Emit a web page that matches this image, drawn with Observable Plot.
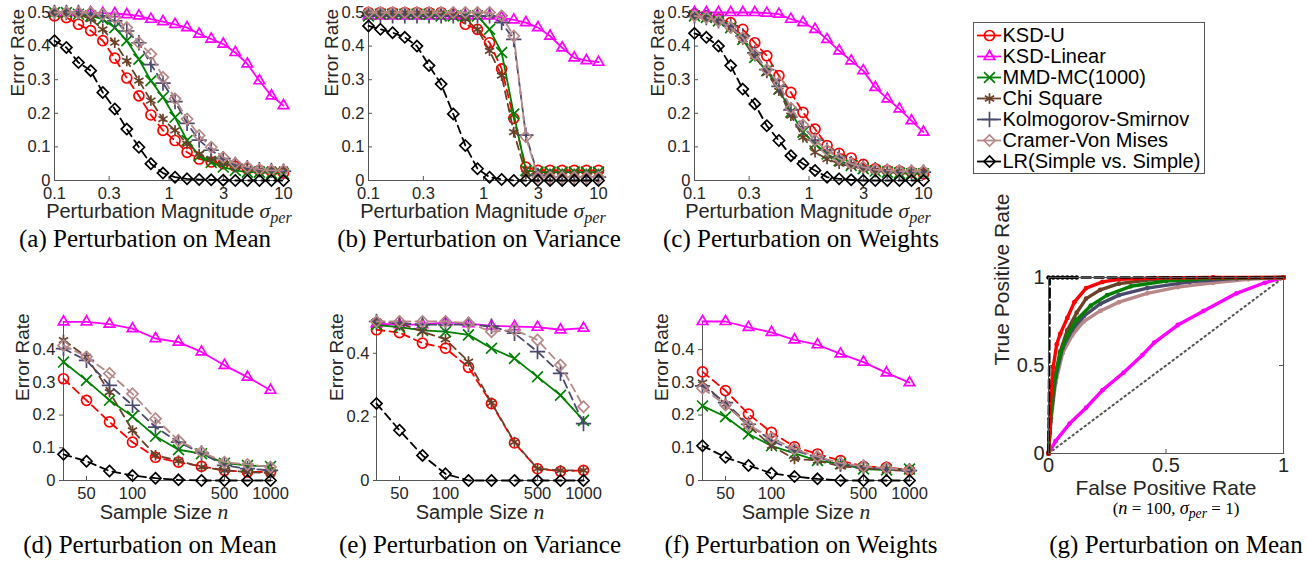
<!DOCTYPE html>
<html><head><meta charset="utf-8">
<script src="https://cdn.jsdelivr.net/npm/d3@7"></script>
<script src="https://cdn.jsdelivr.net/npm/@observablehq/plot@0.6"></script>
<style>
body{margin:0;background:#fff;}
#fig{position:relative;width:1307px;height:561px;overflow:hidden;font-family:"Liberation Sans",Arial,sans-serif;background:#fff;}
.pan{position:absolute;}
.pan svg{overflow:visible;}
.lbl{position:absolute;transform:translate(-50%,-50%);white-space:nowrap;font-size:20px;color:#262626;line-height:1;}
.cap{position:absolute;transform:translate(-50%,-50%);white-space:nowrap;font-family:"Liberation Serif","Times New Roman",serif;font-size:25px;color:#000;line-height:1;}
.m{font-family:"Liberation Serif","Times New Roman",serif;font-style:italic;font-size:1.08em;}
.m sub{font-size:0.75em;vertical-align:-0.3em;}
#legend{position:absolute;left:973px;top:22px;width:232px;height:152px;border:1px solid #555;box-sizing:border-box;background:#fff;}
</style></head>
<body><div id="fig"></div>
<script>
// ---------------- data ----------------
const methods = ["KSD-U","KSD-Linear","MMD-MC(1000)","Chi Square","Kolmogorov-Smirnov","Cramer-Von Mises","LR(Simple vs. Simple)"];
const sigma = [0.1,0.127,0.162,0.207,0.264,0.336,0.428,0.546,0.695,0.886,1.129,1.438,1.833,2.336,2.976,3.793,4.833,6.158,7.848,10];
const sampleSize = [30,50,70,100,150,200,300,500,700,1000];
const sigmaTicks = [0.1,0.3,1,3,10];
const sampleTicks = [50,100,500,1000];

// (a) perturbation on mean vs sigma
const meanKsdU    = [0.49,0.485,0.465,0.446,0.416,0.364,0.305,0.252,0.195,0.149,0.119,0.084,0.064,0.055,0.05,0.042,0.035,0.03,0.027,0.022];
const meanKsdLin  = [0.5,0.5,0.5,0.5,0.498,0.497,0.494,0.49,0.48,0.473,0.465,0.455,0.436,0.421,0.406,0.381,0.347,0.297,0.252,0.223];
const meanMmd     = [0.5,0.5,0.495,0.49,0.48,0.455,0.416,0.361,0.297,0.248,0.188,0.119,0.074,0.054,0.04,0.03,0.025,0.025,0.022,0.02];
const meanChi     = [0.5,0.5,0.495,0.48,0.45,0.41,0.356,0.297,0.238,0.183,0.149,0.109,0.079,0.064,0.05,0.04,0.035,0.032,0.033,0.033];
const meanKs      = [0.5,0.5,0.5,0.495,0.49,0.475,0.445,0.41,0.345,0.29,0.235,0.17,0.12,0.09,0.065,0.048,0.038,0.032,0.03,0.028];
const meanCvm     = [0.5,0.5,0.5,0.5,0.495,0.485,0.455,0.41,0.376,0.307,0.243,0.183,0.134,0.099,0.069,0.051,0.04,0.033,0.03,0.03];
const meanLr      = [0.416,0.396,0.351,0.327,0.262,0.213,0.153,0.099,0.05,0.022,0.01,0.005,0.003,0.002,0.001,0,0,0,0,0];

// (b) perturbation on variance vs sigma
const varKsdU     = [0.5,0.5,0.5,0.5,0.5,0.5,0.5,0.495,0.465,0.45,0.41,0.332,0.185,0.04,0.03,0.03,0.03,0.03,0.03,0.03];
const varKsdLin   = [0.49,0.49,0.49,0.49,0.49,0.49,0.49,0.49,0.49,0.49,0.49,0.485,0.478,0.47,0.455,0.43,0.395,0.365,0.357,0.352];
const varMmd      = [0.49,0.495,0.495,0.495,0.495,0.495,0.49,0.49,0.49,0.49,0.45,0.381,0.198,0.03,0.025,0.025,0.025,0.025,0.025,0.025];
const varChi      = [0.5,0.5,0.5,0.5,0.5,0.5,0.5,0.495,0.48,0.45,0.386,0.312,0.144,0.02,0.02,0.02,0.02,0.02,0.02,0.02];
const varKs       = [0.49,0.49,0.49,0.49,0.49,0.49,0.49,0.49,0.49,0.49,0.49,0.47,0.42,0.135,0.015,0.01,0.01,0.01,0.01,0.01];
const varCvm      = [0.5,0.5,0.5,0.5,0.5,0.5,0.5,0.5,0.5,0.5,0.5,0.49,0.43,0.13,0.01,0.01,0.01,0.01,0.01,0.01];
const varLr       = [0.46,0.45,0.44,0.426,0.4,0.342,0.287,0.198,0.104,0.035,0.01,0.003,0,0,0,0,0,0,0,0];

// (c) perturbation on weights vs sigma
const wKsdU       = [0.495,0.49,0.48,0.47,0.45,0.41,0.371,0.312,0.262,0.203,0.153,0.104,0.081,0.067,0.048,0.035,0.03,0.028,0.025,0.02];
const wKsdLin     = [0.5,0.5,0.5,0.5,0.5,0.5,0.498,0.495,0.48,0.47,0.45,0.42,0.386,0.356,0.327,0.277,0.243,0.213,0.178,0.144];
const wMmd        = [0.49,0.485,0.475,0.455,0.42,0.366,0.327,0.272,0.203,0.144,0.109,0.079,0.059,0.045,0.035,0.028,0.025,0.022,0.02,0.02];
const wChi        = [0.49,0.485,0.475,0.455,0.42,0.37,0.32,0.267,0.193,0.129,0.084,0.064,0.05,0.042,0.035,0.03,0.028,0.028,0.028,0.028];
const wKs         = [0.49,0.485,0.475,0.46,0.43,0.38,0.33,0.28,0.21,0.16,0.12,0.09,0.07,0.05,0.04,0.032,0.028,0.025,0.025,0.025];
const wCvm        = [0.49,0.485,0.475,0.455,0.425,0.375,0.33,0.29,0.215,0.165,0.12,0.09,0.065,0.05,0.04,0.032,0.03,0.028,0.028,0.028];
const wLr         = [0.438,0.426,0.4,0.342,0.272,0.228,0.163,0.119,0.074,0.05,0.03,0.01,0.005,0.002,0,0,0,0,0,0];

// (d) mean vs sample size
const nMeanKsdU   = [0.311,0.245,0.179,0.117,0.071,0.056,0.043,0.031,0.026,0.026];
const nMeanKsdLin = [0.485,0.485,0.478,0.464,0.434,0.423,0.393,0.352,0.316,0.276];
const nMeanMmd    = [0.362,0.306,0.245,0.196,0.135,0.094,0.082,0.053,0.046,0.043];
const nMeanChi    = [0.429,0.378,0.27,0.153,0.077,0.061,0.041,0.031,0.026,0.022];
const nMeanKs     = [0.403,0.367,0.291,0.23,0.163,0.117,0.084,0.046,0.036,0.031];
const nMeanCvm    = [0.413,0.378,0.327,0.265,0.189,0.122,0.087,0.056,0.049,0.041];
const nMeanLr     = [0.08,0.059,0.029,0.015,0.007,0.002,0,0,0,0];

// (e) variance vs sample size
const nVarKsdU    = [0.474,0.465,0.432,0.416,0.356,0.242,0.118,0.037,0.029,0.032];
const nVarKsdLin  = [0.493,0.49,0.49,0.497,0.493,0.486,0.484,0.482,0.474,0.479];
const nVarMmd     = [0.489,0.482,0.472,0.468,0.458,0.416,0.384,0.326,0.268,0.189];
const nVarChi     = [0.5,0.495,0.468,0.444,0.374,0.244,0.121,0.037,0.032,0.032];
const nVarKs      = [0.5,0.495,0.49,0.49,0.49,0.485,0.463,0.405,0.337,0.179];
const nVarCvm     = [0.5,0.5,0.5,0.5,0.495,0.468,0.474,0.442,0.363,0.232];
const nVarLr      = [0.242,0.158,0.079,0.021,0,0,0,0,0,0];

// (f) weights vs sample size
const nWKsdU      = [0.332,0.275,0.203,0.147,0.103,0.081,0.061,0.043,0.04,0.032];
const nWKsdLin    = [0.486,0.486,0.468,0.453,0.43,0.415,0.387,0.362,0.329,0.299];
const nWMmd       = [0.228,0.195,0.142,0.106,0.083,0.061,0.051,0.035,0.032,0.035];
const nWChi       = [0.299,0.233,0.167,0.106,0.066,0.061,0.043,0.038,0.032,0.03];
const nWKs        = [0.289,0.238,0.172,0.122,0.091,0.071,0.051,0.041,0.035,0.03];
const nWCvm       = [0.282,0.231,0.17,0.13,0.096,0.073,0.053,0.043,0.038,0.032];
const nWLr        = [0.106,0.071,0.046,0.022,0.012,0.005,0,0,0,0];

// (g) ROC curves (n = 100, sigma_per = 1)
const rocFprKsdU = [0,0.005,0.01,0.02,0.035,0.05,0.08,0.11,0.16,0.23,0.3,0.45,0.7,1];
const rocTprKsdU = [0,0.2,0.34,0.49,0.62,0.68,0.77,0.86,0.94,0.975,0.99,0.997,1,1];
const rocFprLin  = [0,0.03,0.09,0.16,0.23,0.32,0.4,0.45,0.55,0.66,0.8,0.92,1];
const rocTprLin  = [0,0.07,0.17,0.26,0.36,0.46,0.56,0.63,0.73,0.81,0.91,0.97,1];
const rocFprMmd  = [0,0.005,0.015,0.03,0.05,0.08,0.12,0.18,0.25,0.35,0.5,0.72,1];
const rocTprMmd  = [0,0.12,0.3,0.45,0.57,0.67,0.76,0.84,0.9,0.95,0.98,0.997,1];
const rocFprChi  = [0,0.005,0.015,0.03,0.05,0.08,0.12,0.16,0.22,0.3,0.45,0.7,1];
const rocTprChi  = [0,0.12,0.3,0.45,0.58,0.7,0.8,0.88,0.93,0.965,0.99,0.998,1];
const rocFprKs   = [0,0.01,0.03,0.06,0.1,0.15,0.22,0.3,0.42,0.6,0.8,1];
const rocTprKs   = [0,0.2,0.43,0.6,0.7,0.78,0.85,0.9,0.94,0.975,0.995,1];
const rocFprCvm  = [0,0.01,0.03,0.06,0.1,0.15,0.22,0.3,0.42,0.55,0.7,0.85,1];
const rocTprCvm  = [0,0.18,0.4,0.57,0.67,0.75,0.81,0.86,0.91,0.945,0.97,0.99,1];
const rocFprLr   = [0,0.003,0.005,0.13,1];
const rocTprLr   = [0,0.5,1,1,1];
const rocFprLrDots = [0,0.02,0.04,0.06,0.08,0.1,0.12];
const rocTprLrDots = [1,1,1,1,1,1,1];
const rocDiag = [0,1];

// ---------------- styles ----------------
const methodColors  = ["#ff0000","#ff00ff","#008000","#6a4028","#4a4a6c","#b88888","#000000"];
const methodSymbols = ["circle","triangle2","times","asterisk","plus","diamond2","diamond2"];
const methodDash    = ["8,5",null,null,"8,5","8,5","8,5","8,5"];
const AX = "#555";
const TXT = "#262626";
const fig = document.getElementById("fig");

function place(node, left, top) {
  const d = document.createElement("div");
  d.className = "pan";
  d.style.left = left + "px"; d.style.top = top + "px";
  d.appendChild(node); fig.appendChild(d);
}
function label(html, cx, cy, cls, size) {
  const d = document.createElement("div");
  d.className = cls;
  d.style.left = cx + "px"; d.style.top = cy + "px";
  if (size) d.style.fontSize = size + "px";
  d.innerHTML = html; fig.appendChild(d);
}
const numFmt = d => String(d);

function errorPanel(o) {
  const plotW = o.x1 - o.x0, plotH = o.yb - o.yt;
  const marks = [
    Plot.ruleY([o.yDomain[0]], {stroke: AX}),
    Plot.ruleX([o.xs[0]], {stroke: AX}),
    Plot.tickY(o.yTicks, {y: d => d, insetRight: plotW - 4, stroke: AX}),
    Plot.tickX(o.xTicks, {x: d => d, insetTop: plotH - 4, stroke: AX})
  ];
  o.series.forEach((vals, i) => {
    const data = o.xs.map((x, j) => ({x, y: vals[j]}));
    const lo = {x: "x", y: "y", stroke: methodColors[i], strokeWidth: 1.8};
    if (methodDash[i]) lo.strokeDasharray = methodDash[i];
    marks.push(Plot.line(data, lo));
    marks.push(Plot.dot(data, {x: "x", y: "y", stroke: methodColors[i], symbol: methodSymbols[i], r: 5, strokeWidth: 1.7, fill: "none"}));
  });
  marks.push(Plot.axisX({ticks: o.xTicks, tickSize: 0, tickPadding: 7, tickFormat: numFmt, fontSize: 16.5, label: null}));
  marks.push(Plot.axisY({ticks: o.yTicks, tickSize: 0, tickPadding: 4, tickFormat: numFmt, fontSize: 16.5, label: null}));
  marks.push(Plot.text(["Error Rate"], {frameAnchor: "left", dx: -37, rotate: -90, fontSize: 19, fill: TXT}));
  const chart = Plot.plot({
    width: o.width, height: o.height,
    marginLeft: o.x0 - o.left, marginRight: o.left + o.width - o.x1,
    marginTop: o.yt - o.top, marginBottom: o.top + o.height - o.yb,
    x: {...o.xScale, label: null}, y: {domain: o.yDomain, label: null},
    style: {fontFamily: "Liberation Sans, Arial, sans-serif", color: TXT, background: "transparent", overflow: "visible"},
    marks
  });
  place(chart, o.left, o.top);
}

const logX = {type: "log", domain: [0.1, 10]};
const ptX = {type: "point", domain: sampleSize, padding: 0};

// top row
errorPanel({left: 0, top: 0, width: 310, height: 205, x0: 54, x1: 283, yt: 12, yb: 180,
  xs: sigma, xScale: logX, xTicks: sigmaTicks, yDomain: [0, 0.5], yTicks: [0,0.1,0.2,0.3,0.4,0.5],
  series: [meanKsdU, meanKsdLin, meanMmd, meanChi, meanKs, meanCvm, meanLr]});
errorPanel({left: 315, top: 0, width: 310, height: 205, x0: 368, x1: 598, yt: 12, yb: 180,
  xs: sigma, xScale: logX, xTicks: sigmaTicks, yDomain: [0, 0.5], yTicks: [0,0.1,0.2,0.3,0.4,0.5],
  series: [varKsdU, varKsdLin, varMmd, varChi, varKs, varCvm, varLr]});
errorPanel({left: 640, top: 0, width: 300, height: 205, x0: 694, x1: 923, yt: 12, yb: 180,
  xs: sigma, xScale: logX, xTicks: sigmaTicks, yDomain: [0, 0.5], yTicks: [0,0.1,0.2,0.3,0.4,0.5],
  series: [wKsdU, wKsdLin, wMmd, wChi, wKs, wCvm, wLr]});

// bottom row
errorPanel({left: 0, top: 300, width: 300, height: 205, x0: 59, x1: 273, yt: 321, yb: 480,
  xs: sampleSize, xScale: ptX, xTicks: sampleTicks, yDomain: [0, 0.486], yTicks: [0,0.1,0.2,0.3,0.4],
  series: [nMeanKsdU, nMeanKsdLin, nMeanMmd, nMeanChi, nMeanKs, nMeanCvm, nMeanLr]});
errorPanel({left: 315, top: 300, width: 300, height: 205, x0: 373, x1: 585, yt: 321, yb: 480,
  xs: sampleSize, xScale: ptX, xTicks: sampleTicks, yDomain: [0, 0.5], yTicks: [0,0.2,0.4],
  series: [nVarKsdU, nVarKsdLin, nVarMmd, nVarChi, nVarKs, nVarCvm, nVarLr]});
errorPanel({left: 640, top: 300, width: 300, height: 205, x0: 698, x1: 912, yt: 321, yb: 480,
  xs: sampleSize, xScale: ptX, xTicks: sampleTicks, yDomain: [0, 0.486], yTicks: [0,0.1,0.2,0.3,0.4],
  series: [nWKsdU, nWKsdLin, nWMmd, nWChi, nWKs, nWCvm, nWLr]});

// ROC panel
(function () {
  const left = 985, top = 262, width = 322, height = 243, x0 = 1048, x1 = 1283, yt = 277, yb = 453;
  const plotW = x1 - x0, plotH = yb - yt;
  const zip = (a, b) => a.map((v, i) => ({x: v, y: b[i]}));
  const curves = [
    [rocFprLin, rocTprLin, 1], [rocFprCvm, rocTprCvm, 5], [rocFprKs, rocTprKs, 4],
    [rocFprChi, rocTprChi, 3], [rocFprMmd, rocTprMmd, 2], [rocFprKsdU, rocTprKsdU, 0]
  ];
  const marks = [
    Plot.line(zip(rocDiag, rocDiag), {x: "x", y: "y", stroke: "#555", strokeWidth: 2, strokeDasharray: "1.5,3.5"})
  ];
  curves.forEach(([f, t, i]) => {
    const data = zip(f, t);
    marks.push(Plot.line(data, {x: "x", y: "y", stroke: methodColors[i], strokeWidth: 3.4, strokeLinecap: "round"}));
    marks.push(Plot.dot(data, {x: "x", y: "y", fill: methodColors[i], r: 2.4}));
  });
  marks.push(Plot.line(zip(rocFprLrDots, rocTprLrDots), {x: "x", y: "y", stroke: "#000", strokeWidth: 2.5}));
  marks.push(Plot.dot(zip(rocFprLrDots, rocTprLrDots), {x: "x", y: "y", fill: "#000", r: 2.2}));
  marks.push(Plot.line(zip(rocFprLr, rocTprLr), {x: "x", y: "y", stroke: "#000", strokeWidth: 2.6, strokeDasharray: "9,4"}));
  marks.push(Plot.frame({stroke: AX}));
  const tk = [0, 0.5, 1];
  marks.push(Plot.tickY(tk, {y: d => d, insetRight: plotW - 4, stroke: AX}));
  marks.push(Plot.tickY(tk, {y: d => d, insetLeft: plotW - 4, stroke: AX}));
  marks.push(Plot.tickX(tk, {x: d => d, insetTop: plotH - 4, stroke: AX}));
  marks.push(Plot.tickX(tk, {x: d => d, insetBottom: plotH - 4, stroke: AX}));
  marks.push(Plot.axisX({ticks: tk, tickSize: 0, tickPadding: 4, tickFormat: numFmt, fontSize: 20, label: null}));
  marks.push(Plot.axisY({ticks: tk, tickSize: 0, tickPadding: 4, tickFormat: numFmt, fontSize: 20, label: null}));
  marks.push(Plot.text(["True Positive Rate"], {frameAnchor: "left", dx: -46, rotate: -90, fontSize: 21, fill: TXT}));
  marks.push(Plot.text(["False Positive Rate"], {frameAnchor: "bottom", dy: 41, fontSize: 21, fill: TXT}));
  const chart = Plot.plot({
    width, height, marginLeft: x0 - left, marginRight: left + width - x1,
    marginTop: yt - top, marginBottom: top + height - yb,
    x: {domain: [0, 1], label: null}, y: {domain: [0, 1], label: null},
    style: {fontFamily: "Liberation Sans, Arial, sans-serif", color: TXT, background: "transparent", overflow: "visible"},
    marks
  });
  place(chart, left, top);
})();

// legend
(function () {
  const lg = Plot.plot({
    width: 230, height: 150, marginLeft: 3, marginRight: 203, marginTop: 10, marginBottom: 10,
    x: {domain: [0, 1], axis: null},
    y: {type: "point", domain: methods, padding: 0, axis: null},
    color: {domain: methods, range: methodColors},
    symbol: {domain: methods, range: methodSymbols},
    style: {fontFamily: "Liberation Sans, Arial, sans-serif", background: "transparent", overflow: "visible"},
    marks: [
      Plot.tickY(methods, {y: d => d, stroke: d => d, strokeWidth: 1.8}),
      Plot.dot(methods, {y: d => d, stroke: d => d, symbol: d => d, r: 5, strokeWidth: 1.7, fill: "none"}),
      Plot.text(methods, {y: d => d, text: d => d, frameAnchor: "right", textAnchor: "start", dx: 1, fontSize: 20, fill: "#000"})
    ]
  });
  const d = document.createElement("div");
  d.id = "legend"; d.appendChild(lg); fig.appendChild(d);
})();

// axis titles and captions
const sigPer = '<span class="m">σ<sub>per</sub></span>';
label("Perturbation Magnitude " + sigPer, 169, 214, "lbl");
label("Perturbation Magnitude " + sigPer, 483, 214, "lbl");
label("Perturbation Magnitude " + sigPer, 808, 214, "lbl");
label('Sample Size <span class="m">n</span>', 164, 513, "lbl");
label('Sample Size <span class="m">n</span>', 480, 513, "lbl");
label('Sample Size <span class="m">n</span>', 806, 513, "lbl");
label('(<span class="m">n</span> = 100, ' + sigPer + ' = 1)', 1176, 510, "cap", 17);
label("(a) Perturbation on Mean", 145, 238, "cap");
label("(b) Perturbation on Variance", 479, 238, "cap");
label("(c) Perturbation on Weights", 801, 238, "cap");
label("(d) Perturbation on Mean", 150, 544, "cap");
label("(e) Perturbation on Variance", 480, 544, "cap");
label("(f) Perturbation on Weights", 801, 544, "cap");
label("(g) Perturbation on Mean", 1176, 544, "cap");
</script></body></html>
